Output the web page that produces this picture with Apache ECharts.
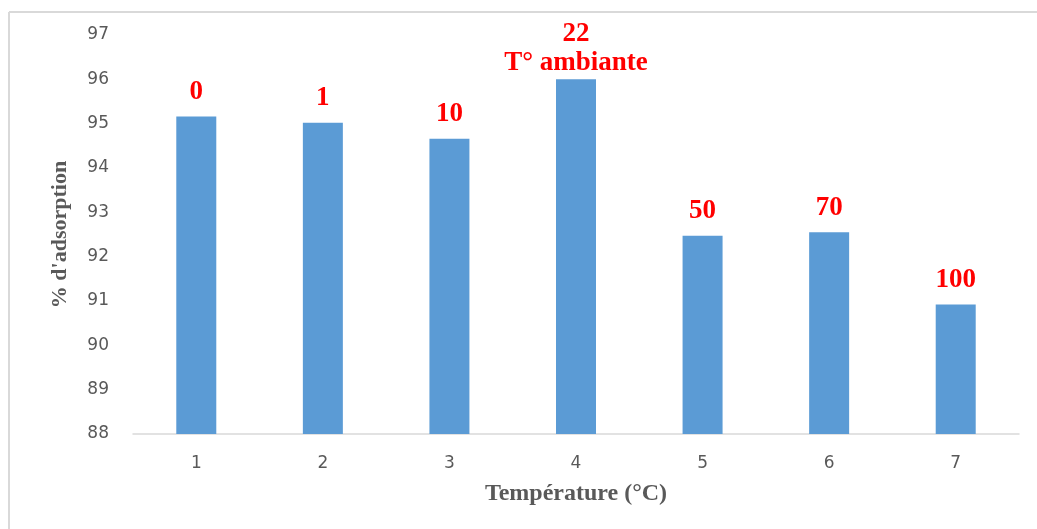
<!DOCTYPE html>
<html>
<head>
<meta charset="utf-8">
<script src="https://cdn.jsdelivr.net/npm/echarts@6/dist/echarts.min.js"></script>
<style>
  html, body { margin: 0; padding: 0; background: #fff; }
  #chart { width: 1037px; height: 529px; }
</style>
</head>
<body>
<div id="chart"></div>
<script>
// Sample index on the x axis
const categories = ['1', '2', '3', '4', '5', '6', '7'];
// Adsorption percentage for each sample
const adsorption = [95.16, 95.02, 94.66, 96.0, 92.47, 92.55, 90.92];
// Temperature (°C) written above each bar
const tempLabels = ['0', '1', '10', '22\nT° ambiante', '50', '70', '100'];

const serif = '"Liberation Serif", "Times New Roman", serif';

const chart = echarts.init(document.getElementById('chart'), null, { renderer: 'canvas' });

const seriesData = adsorption.map((v, i) => {
  const item = { value: v };
  if (tempLabels[i].indexOf('\n') >= 0) {
    item.label = { distance: 2, lineHeight: 29 };
  }
  return item;
});

chart.setOption({
  animation: false,
  backgroundColor: '#ffffff',
  grid: { left: 133, right: 18, top: 35, bottom: 95, containLabel: false },
  xAxis: {
    type: 'category',
    data: categories,
    name: 'Température (°C)',
    nameLocation: 'middle',
    nameGap: 48,
    nameTextStyle: { fontFamily: serif, fontWeight: 'bold', fontSize: 24, color: '#595959' },
    axisLine: { lineStyle: { color: '#d9d9d9', width: 1.5 } },
    axisTick: { show: false },
    axisLabel: { margin: 21, fontFamily: '"DejaVu Sans", sans-serif', fontSize: 17, color: '#595959' }
  },
  yAxis: {
    type: 'value',
    min: 88,
    max: 97,
    interval: 1,
    name: "% d'adsorption",
    nameLocation: 'middle',
    nameRotate: 90,
    nameGap: 62,
    nameTextStyle: { fontFamily: serif, fontWeight: 'bold', fontSize: 22, color: '#595959' },
    axisLine: { show: false },
    axisTick: { show: false },
    splitLine: { show: false },
    axisLabel: { margin: 24, fontFamily: '"DejaVu Sans", sans-serif', fontSize: 17, color: '#595959' }
  },
  series: [{
    type: 'bar',
    data: seriesData,
    barWidth: 40,
    itemStyle: { color: '#5b9bd5' },
    label: {
      show: true,
      position: 'top',
      distance: 11,
      formatter: p => tempLabels[p.dataIndex],
      fontFamily: serif,
      fontWeight: 'bold',
      fontSize: 27,
      color: '#ff0000'
    }
  }],
  graphic: [
    // chart frame (top and left edges)
    { type: 'line', shape: { x1: 9, y1: 12, x2: 1037, y2: 12 }, style: { stroke: '#d9d9d9', lineWidth: 2 }, silent: true },
    { type: 'line', shape: { x1: 9, y1: 12, x2: 9, y2: 529 }, style: { stroke: '#d9d9d9', lineWidth: 2 }, silent: true }
  ]
});
</script>
</body>
</html>
